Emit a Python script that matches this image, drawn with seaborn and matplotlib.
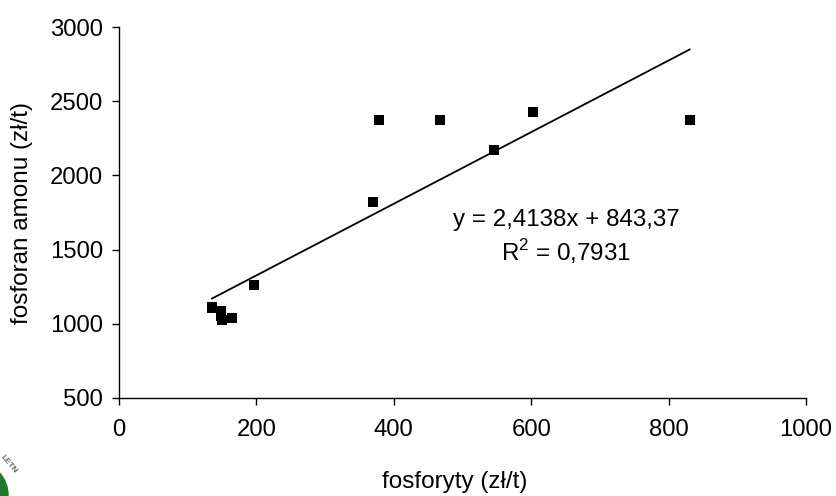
import numpy as np
import pandas as pd
import seaborn as sns
import matplotlib.pyplot as plt
from matplotlib.patches import Circle

# values
fosforyty = [135, 136, 149, 149, 150, 165, 196, 369, 379, 467, 546, 603, 831]
fosforan = [1105, 1110, 1085, 1050, 1025, 1040, 1260, 1820, 2370, 2370, 2170, 2430, 2370]
trend_x = [135, 831]
slope = 2.4138
intercept = 843.37

sns.set_style("white")
plt.rcParams['font.family'] = ['Liberation Sans', 'DejaVu Sans']
plt.rcParams['text.color'] = 'black'
plt.rcParams['axes.labelcolor'] = 'black'
plt.rcParams['xtick.labelcolor'] = 'black'
plt.rcParams['ytick.labelcolor'] = 'black'
df = pd.DataFrame({'x': fosforyty, 'y': fosforan})

fig = plt.figure(figsize=(8.36, 4.96), dpi=100)
ax = fig.add_axes([119 / 836, 1 - 398 / 496, (806 - 119) / 836, (398 - 27) / 496])

sns.scatterplot(x='x', y='y', data=df, marker='s', s=50, color='black', linewidth=0, ax=ax, clip_on=False)
tx = np.array(trend_x)
sns.lineplot(x=tx, y=slope * tx + intercept, color='black', linewidth=1.3, ax=ax)

ax.set_xlim(0, 1000)
ax.set_ylim(500, 3000)
ax.set_xticks(range(0, 1001, 200))
ax.set_yticks(range(500, 3001, 500))
ax.tick_params(axis='both', direction='out', length=5, width=1, labelsize=17.2, color='black', bottom=True, left=True)
ax.tick_params(axis='x', pad=10)
ax.tick_params(axis='y', pad=6.5)
sns.despine(ax=ax)
for s in ['left', 'bottom']:
    ax.spines[s].set_color('black')
    ax.spines[s].set_linewidth(1)

ax.set_xlabel('fosforyty (zł/t)', fontsize=17.5, labelpad=22, x=0.488)
ax.set_ylabel('fosforan amonu (zł/t)', fontsize=17.5, labelpad=12)
ax.text(651, 1700, 'y = 2,4138x + 843,37', fontsize=17.4, ha='center', va='center')
ax.text(651, 1490, r'R$^{\mathregular{2}}$ = 0,7931', fontsize=17.4, ha='center', va='center')

# edge of the logo in the lower left corner
fig.add_artist(Circle((-25 / 100, 1 / 100), 33 / 100, color='#1f7a2e', transform=fig.dpi_scale_trans))
fig.text(9 / 836, 1 - 464 / 496, 'LETN', fontsize=6, color='#666666', rotation=-50, ha='center', va='center', fontweight='bold')

fig.savefig('out.png', dpi=100)
